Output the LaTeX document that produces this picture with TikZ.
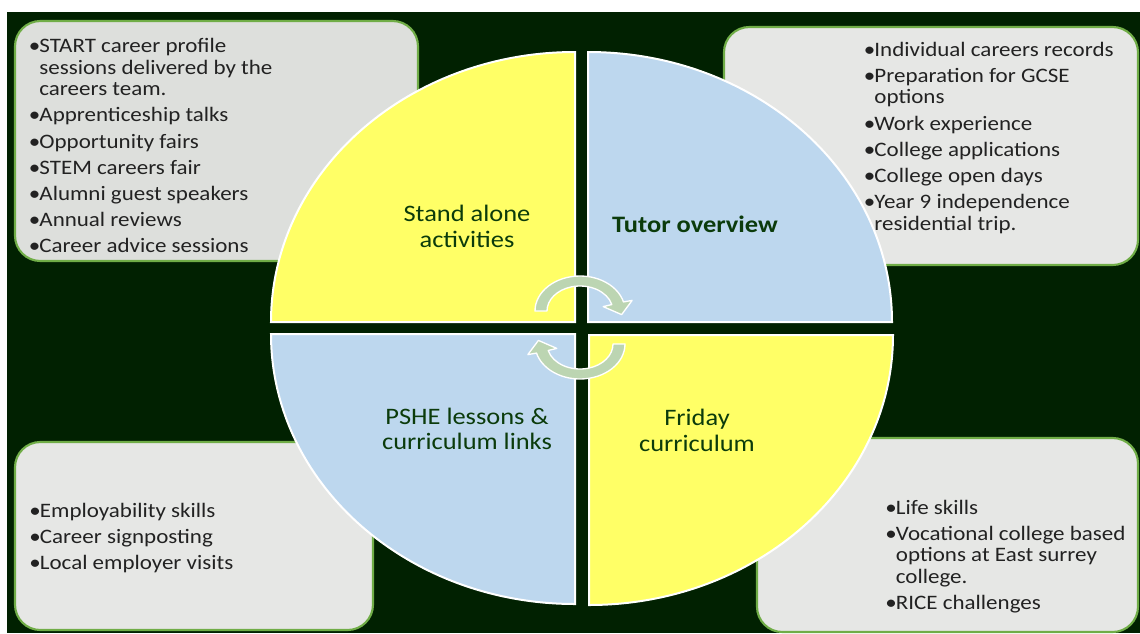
\documentclass[tikz,border=0pt]{standalone}
\usepackage{fontspec}
\setmainfont{Carlito}[FakeStretch=1.12]
\usetikzlibrary{calc}
\definecolor{bgdark}{HTML}{012101}
\definecolor{boxgreen}{HTML}{70AD47}
\definecolor{boxgrayA}{HTML}{DDDFDC}
\definecolor{boxgrayB}{HTML}{E6E7E5}
\definecolor{quadyellow}{HTML}{FFFF66}
\definecolor{quadblue}{HTML}{BDD7EE}
\definecolor{titlegreen}{HTML}{0B3B0B}
\definecolor{bodytext}{HTML}{222222}
\definecolor{arrowsage}{HTML}{BCD5B2}
\newlength\bulw
\newcommand\bul{\par\hangindent=\bulw\hangafter=1\noindent\makebox[\bulw][l]{•}}
\newcommand\bodyfont{\fontsize{15.4}{16.2}\selectfont\raggedright\setlength\bulw{8pt}\setlength\parskip{3.45pt}}
\newcommand\titlefont{\fontsize{17.7}{19.4}\selectfont}
\tikzset{
  infobox/.style={draw=boxgreen, line width=1.6pt, rounded corners=19pt},
  quad/.style={draw=white, line width=1.5pt},
  titletext/.style={text=titlegreen, anchor=base, inner sep=0pt},
  bullets/.style={text=bodytext, anchor=base west, inner sep=0pt},
  cyclearrow/.style={fill=arrowsage, draw=white, line width=1pt, line join=round},
  cycarrow/.pic={
    \path[cyclearrow] (180:45 and 35) arc[start angle=180, end angle=345, x radius=45, y radius=35]
      -- (345:54 and 41) -- (41.6,3.6) -- (345:24 and 17) -- (345:33 and 25)
      arc[start angle=345, end angle=180, x radius=33, y radius=25] -- cycle;
  }
}
\begin{document}
\begin{tikzpicture}[x=0.75pt,y=-0.75pt]
\useasboundingbox (0,0) rectangle (1140,633);
\fill[white] (0,0) rectangle (1140,633);
\fill[bgdark] (7,12) rectangle (1140,633);
% info boxes
\draw[infobox, fill=boxgrayA] (15,21) rectangle (418,261);
\draw[infobox, fill=boxgrayB] (724,27) rectangle (1138,265);
\draw[infobox, fill=boxgrayB] (15,442) rectangle (373,630);
\draw[infobox, fill=boxgrayB] (757,438) rectangle (1138,632);
% quadrants
\draw[quad, fill=quadyellow] (575,322) -- ++(-304,0) arc[start angle=180, end angle=270, x radius=304, y radius=270] -- cycle;
\draw[quad, fill=quadblue] (588,322) -- ++(0,-270) arc[start angle=270, end angle=360, x radius=304, y radius=270] -- cycle;
\draw[quad, fill=quadyellow] (589,335) -- ++(304,0) arc[start angle=0, end angle=90, x radius=304, y radius=270] -- cycle;
\draw[quad, fill=quadblue] (575,334) -- ++(0,270) arc[start angle=90, end angle=180, x radius=304, y radius=270] -- cycle;
% cycle arrows
\pic at (580,311) {cycarrow};
\pic[rotate=180] at (580,344) {cycarrow};
% titles
\node[titletext] (sa) at (467,221.5) {\parbox[t]{200pt}{\centering\titlefont Stand alone\\activities}};
\node[titletext] (to) at (695,232.5) {\titlefont\bfseries Tutor overview};
\node[titletext] (ps) at (467,424) {\parbox[t]{200pt}{\centering\titlefont PSHE lessons \&\\curriculum links}};
\node[titletext] (fr) at (697,425.5) {\parbox[t]{200pt}{\centering\titlefont Friday\\curriculum}};
% bullet lists
\node[bullets] (tlist) at (28.5,52.5) {\parbox[t]{300pt}{\bodyfont
\bul START career profile\newline sessions delivered by the\newline careers team.
\bul Apprenticeship talks
\bul Opportunity fairs
\bul STEM careers fair
\bul Alumni guest speakers
\bul Annual reviews
\bul Career advice sessions}};
\node[bullets] (rlist) at (863.5,56) {\parbox[t]{300pt}{\bodyfont
\bul Individual careers records
\bul Preparation for GCSE\newline options
\bul Work experience
\bul College applications
\bul College open days
\bul Year 9 independence\newline residential trip.}};
\node[bullets] (blist) at (29,517) {\parbox[t]{300pt}{\bodyfont
\bul Employability skills
\bul Career signposting
\bul Local employer visits}};
\node[bullets] (brlist) at (885,514) {\parbox[t]{300pt}{\bodyfont
\bul Life skills
\bul Vocational college based\newline options at East surrey\newline college.
\bul RICE challenges}};
\end{tikzpicture}
\end{document}
